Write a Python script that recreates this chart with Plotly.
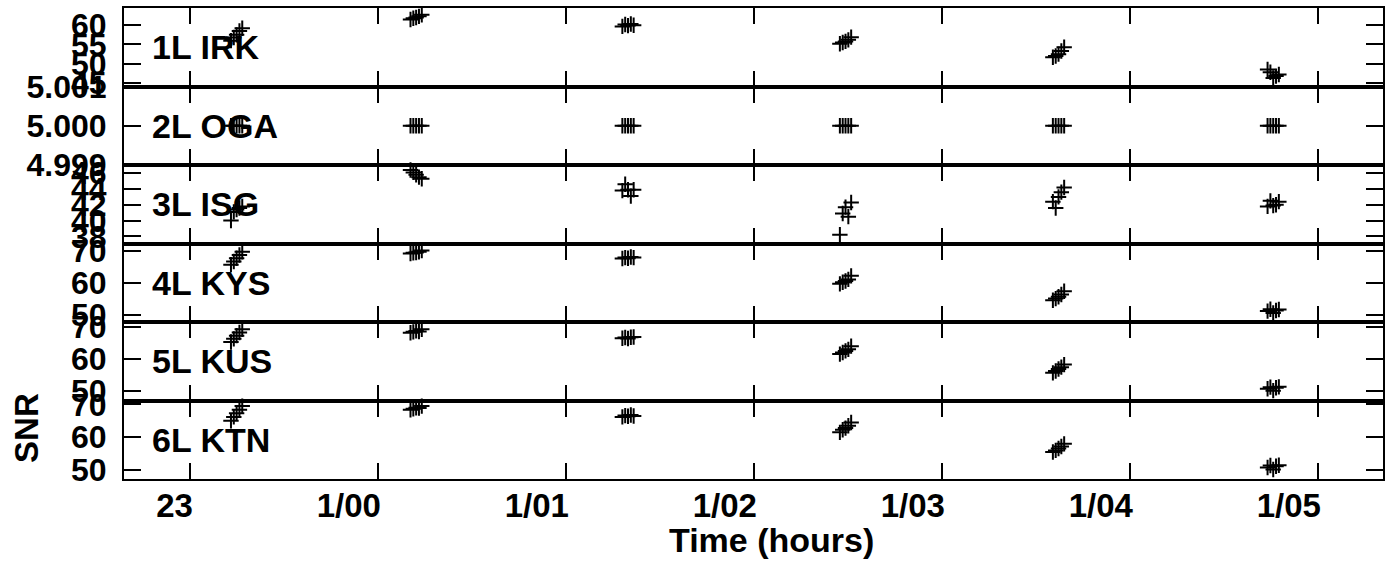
import plotly.graph_objects as go
from plotly.subplots import make_subplots

# ---- data ----
time_hours = [
    23.218, 23.233, 23.248, 23.263, 23.278,
    24.173, 24.188, 24.203, 24.218, 24.233,
    25.300, 25.315, 25.330, 25.345, 25.360,
    26.457, 26.472, 26.487, 26.502, 26.517,
    27.590, 27.605, 27.620, 27.635, 27.650,
    28.732, 28.747, 28.762, 28.777, 28.792,
]

stations = ["1L IRK", "2L OGA", "3L ISG", "4L KYS", "5L KUS", "6L KTN"]

snr_irk = [56.0, 56.8, 57.5, 58.5, 59.2,
           61.5, 61.8, 62.0, 62.3, 62.7,
           59.7, 60.2, 59.9, 60.3, 60.0,
           55.2, 55.5, 55.8, 56.2, 56.9,
           51.7, 52.0, 52.5, 53.3, 54.3,
           48.5, 47.8, 46.3, 46.8, 47.2]
snr_oga = [5.0] * 30
snr_isg = [40.0, 41.1, 41.4, 41.6, 41.8,
           46.4, 46.1, 45.8, 45.5, 45.3,
           43.8, 44.6, 43.9, 43.1, 43.9,
           38.2, 40.9, 41.7, 40.5, 42.3,
           42.4, 41.6, 43.0, 43.6, 44.2,
           41.8, 42.5, 41.9, 42.0, 42.4]
snr_kys = [65.8, 66.8, 67.8, 68.8, 69.8,
           69.3, 69.5, 69.6, 69.8, 70.2,
           67.7, 68.0, 67.8, 68.2, 68.0,
           59.8, 60.3, 60.7, 61.2, 62.3,
           54.7, 55.2, 55.8, 56.5, 57.5,
           51.3, 51.9, 50.7, 51.5, 51.8]
snr_kus = [65.3, 66.3, 67.3, 68.3, 69.3,
           68.2, 68.5, 68.8, 68.6, 69.3,
           66.5, 66.7, 66.4, 66.8, 66.9,
           61.5, 62.0, 62.5, 63.0, 64.0,
           55.6, 56.2, 56.8, 57.4, 58.2,
           50.6, 51.1, 50.0, 50.9, 51.2]
snr_ktn = [65.0, 66.2, 67.3, 68.4, 69.5,
           68.4, 68.7, 69.0, 68.9, 69.5,
           66.2, 66.6, 66.4, 66.8, 66.5,
           61.5, 62.3, 62.8, 63.5, 64.5,
           55.5, 56.0, 56.6, 57.2, 58.0,
           50.8, 51.4, 50.2, 51.2, 51.5]

series = [snr_irk, snr_oga, snr_isg, snr_kys, snr_kus, snr_ktn]

x_tick_vals = [23, 24, 25, 26, 27, 28, 29]
x_tick_text = ["23", "1/00", "1/01", "1/02", "1/03", "1/04", "1/05"]

y_tick_vals = [
    [45, 50, 55, 60],
    [4.999, 5.000, 5.001],
    [38, 40, 42, 44, 46],
    [50, 60, 70],
    [50, 60, 70],
    [50, 60, 70],
]
y_tick_text = [
    ["45", "50", "55", "60"],
    ["4.999", "5.000", "5.001"],
    ["38", "40", "42", "44", "46"],
    ["50", "60", "70"],
    ["50", "60", "70"],
    ["50", "60", "70"],
]
y_ranges = [
    [44.1, 64.47],
    [4.99899999, 5.00100001],
    [37.1, 47.04],
    [47.9, 72.4],
    [46.9, 71.6],
    [47.3, 71.2],
]
x_range = [22.649, 29.346]

FONT = "Liberation Sans, Arial, Helvetica, sans-serif"

fig = make_subplots(rows=6, cols=1, shared_xaxes=True, vertical_spacing=0)

for i, ys in enumerate(series):
    fig.add_trace(
        go.Scatter(
            x=time_hours, y=ys, mode="markers",
            marker=dict(symbol="cross-thin", size=11, color="black",
                        line=dict(color="black", width=2)),
            showlegend=False, cliponaxis=False,
        ),
        row=i + 1, col=1,
    )
    fig.update_yaxes(
        row=i + 1, col=1,
        range=y_ranges[i], tickmode="array",
        tickvals=y_tick_vals[i], ticktext=y_tick_text[i],
        showline=True, linecolor="black", linewidth=2, mirror="ticks",
        ticks="inside", ticklen=17, tickwidth=2, tickcolor="black",
        showgrid=False, zeroline=False, automargin=False,
        tickfont=dict(family=FONT, size=32, color="black", weight="bold"),
        ticklabelstandoff=9,
    )
    fig.update_xaxes(
        row=i + 1, col=1,
        range=x_range, tickmode="array",
        tickvals=x_tick_vals, ticktext=x_tick_text,
        showline=True, linecolor="black", linewidth=2, mirror="ticks",
        ticks="inside", ticklen=16, tickwidth=2, tickcolor="black",
        showgrid=False, zeroline=False, automargin=False,
        showticklabels=(i == 5),
        tickfont=dict(family=FONT, size=33, color="black", weight="bold"),
    )
    xr = "x domain" if i == 0 else f"x{i + 1} domain"
    yr = "y domain" if i == 0 else f"y{i + 1} domain"
    fig.add_annotation(
        text=stations[i], xref=xr, yref=yr, x=0.021, y=0.5,
        xanchor="left", yanchor="middle", showarrow=False,
        font=dict(family=FONT, size=34, color="black", weight="bold"),
    )

fig.update_xaxes(row=6, col=1, ticklabelposition="outside left",
                 ticklabelshift=5, ticklabelstandoff=-4)

fig.add_annotation(
    text="Time (hours)", xref="paper", yref="paper", x=0.514, y=-0.13,
    xanchor="center", yanchor="middle", showarrow=False,
    font=dict(family=FONT, size=34, color="black", weight="bold"),
)
fig.add_annotation(
    text="SNR", xref="paper", yref="paper", x=-0.078, y=0.108,
    xanchor="center", yanchor="middle", showarrow=False, textangle=-90,
    font=dict(family=FONT, size=33, color="black", weight="bold"),
)

fig.update_layout(
    width=1389, height=565,
    margin=dict(l=124, r=6, t=8, b=86, autoexpand=False),
    plot_bgcolor="white", paper_bgcolor="white",
    showlegend=False,
)

fig.write_html("out.html")
